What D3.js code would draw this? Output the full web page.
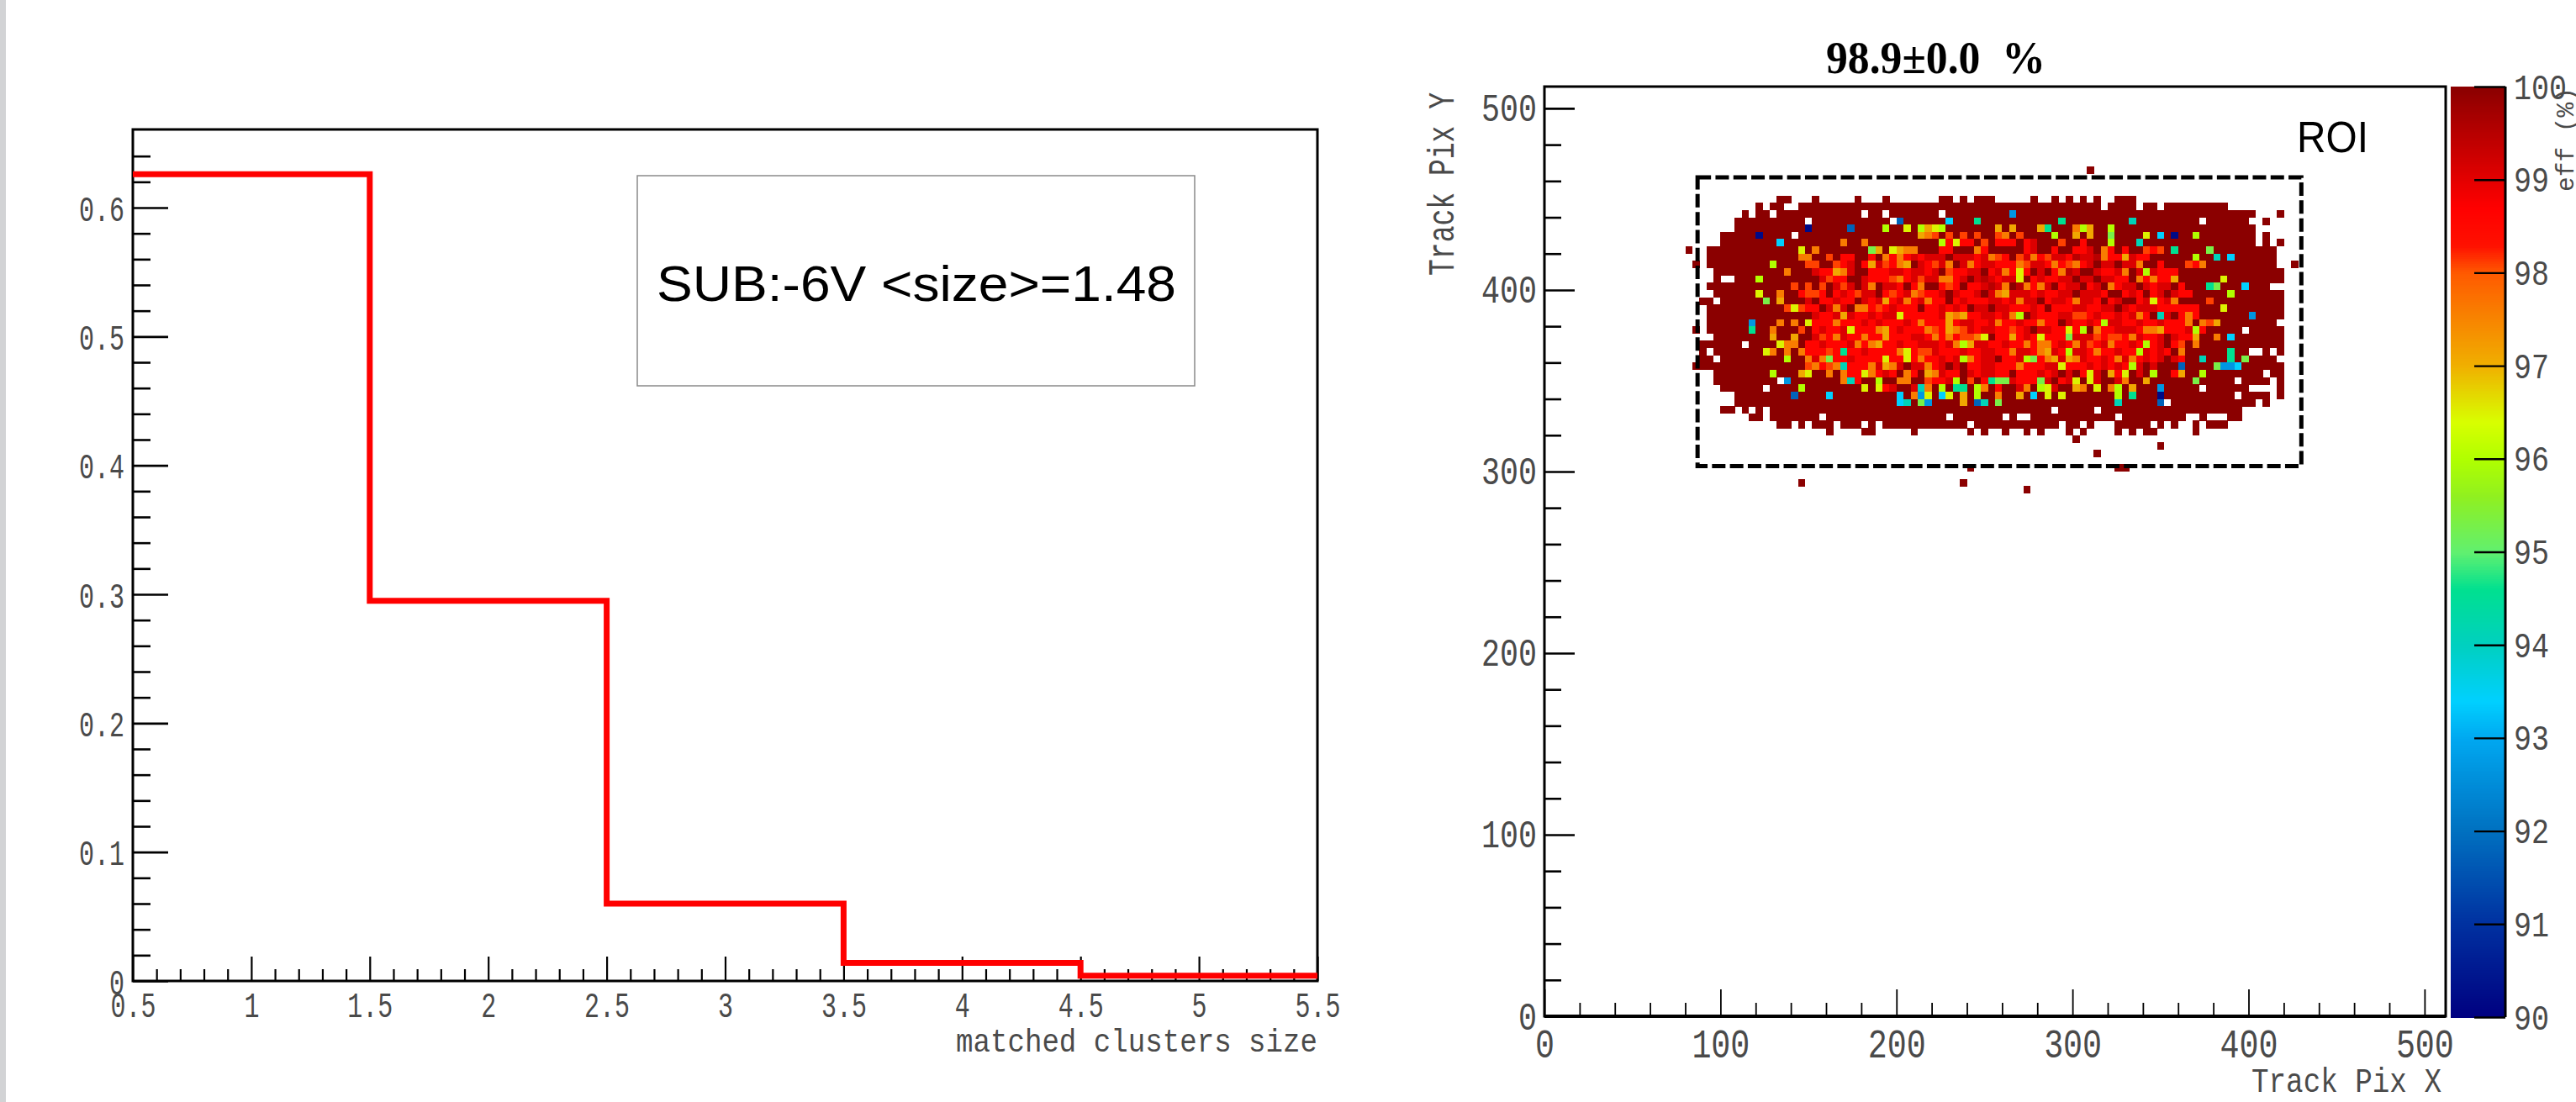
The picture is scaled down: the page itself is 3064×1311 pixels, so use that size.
<!DOCTYPE html>
<html><head><meta charset="utf-8">
<script src="https://cdn.jsdelivr.net/npm/d3@7/dist/d3.min.js"></script>
<style>html,body{margin:0;padding:0;background:#fff;overflow:hidden}svg{display:block}</style>
</head><body><svg id="c" width="3064" height="1311"></svg>
<script>
// ---------- left histogram ----------
const histEdges = [0.5,1.5,2.5,3.5,4.5,5.5];
const histValues = [0.626,0.295,0.060,0.014,0.004];
const histXMajor = [0.5,1,1.5,2,2.5,3,3.5,4,4.5,5,5.5];
const histXLabels = ["0.5","1","1.5","2","2.5","3","3.5","4","4.5","5","5.5"];
const histYMajor = [0,0.1,0.2,0.3,0.4,0.5,0.6];
const histYLabels = ["0","0.1","0.2","0.3","0.4","0.5","0.6"];
const histXTitle = "matched clusters size";
const legendText = "SUB:-6V <size>=1.48";
// ---------- right map ----------
const mapTitle = "98.9\u00b10.0  %";
const mapTicks = [0,100,200,300,400,500];
const barTicks = [90,91,92,93,94,95,96,97,98,99,100];
const roiBox = [87,430,303,462];
const binSize = 4, firstBinX = 84, topBinY = 448;
// efficiency read for each colour seen in a cell
const codeEff = {D:100,E:99.5,F:99.1,R:98.6,Q:98.1,O:97.6,o:97.1,y:96.5,l:96,g:95.3,G:94.6,T:94.1,C:93.4,B:92.7,b:91.8,n:91,N:90.2};
const effStops = [90,91,92,93,93.4,94,94.6,95,95.6,96,96.4,97,98,98.3,98.7,100];
const colorStops = ["#000080","#0030a0","#0070c0","#00a8f0","#00d0ff","#00d0c0","#00e090","#60f070","#90f020","#b0ff00","#d8ff00","#f0b000","#ff5a00","#ff1000","#ff0000","#8b0000"];
// occupied columns of every row, top row first
const rowSpans = [
"12-13,17,23,27,35-36,38,40-42,48,51,53,55,57,60-62",
"9,11-12,15-57,59-62,64-65,67-75",
"7,9-10,12-23,25-26,28-34,36-79,83",
"6-15,17-27,29-71,73-78,81",
"6-79",
"4-13,15-79,81",
"4-79,81,83",
"2-82","2-82","2-82","3-83","3,6-83","2-81","3-83","1-2,4-83","2-83","2-83","2-82",
"2-77,79-83","3-83","1-6,8-83","1,3-78,81,83","1-2,4-82","1-83","3-80,82-83",
"3-11,13-76,78-81,83","4-9,11-71,73-78,83","6-76,78-81,83","6-66,68-79,81",
"4-5,7,9,11-50,52-56,58-77",
"8-9,11-17,19-35,37-43,45,48-59,61-69,72,76-77",
"12-13,15,17-19,21-23,25,27-38,40-51,53-54,56,60-64,66,68,71,73-75",
"19,24-25,31,39,41,44,47,49,53,55,60,62,64-65,71"];
// reds of the dense middle, row 8 downwards: start column then one code per cell
const centerFill = [
"20:DDRDDFDDDDRFRDFDDFFFDFFDRDDFFRDDFDEFFEDRDDFRR",
"20:RRFDRFFFRFEDDRDFFDFRDFFRRDFDFFRFRDDRFDFFDDFDD",
"17:FRRDFFDDDRRFFDFFRFDFRRFFDRFFRFRDFDRFEFDDFRRFFDFDFRR",
"16:DDFRRRDDFDFRFDFFRFFRFRFDFEFRFFRDRFRRFFDFFDFFRRDFRRD",
"15:DFDFDFRFDFRDFFRDRFDDRFRDRRFEFFDEFRRFDRFFDRFDRRFFDFRFFDRD",
"15:RRRRDRFRRFFDRFRFFDRRFDFRRFDFDEFFFRFRRFFDFFFRDDRFRDRFDFRRD",
"14:DDFDRRFRRDFRFRRFDRFFRRDRFRRRFFRFRFFDRFFRRFFRDRFDDRFDRFRDD",
"16:RRDFRFDDFRRRFRRRDRRFRFRDFFDFFRRRFRDRRRFFRRFFDFRFFFRRFDRRD",
"15:DDFRRFRFRRFRFFFRRRRRFFRDRRFFRFRRDFRRRFFDRRFRRFRFFRDRFDRFRD",
"17:RRRFRRRFRFRRRFRRRRRFRFFRRFDRRFRRRRRDFRRFRRFFRRFRRFRRRFDD",
"17:RFRRFRRRRFRRFRRRRRRFRRFRFFRRRRFDFFRRRRFDDRRFFFRFFFRRRFDR",
"17:FRRRFRRFRRRRRRFFRRRFRRFFFDRRFRFRRRRRRFFFRRFFRFFRRFDFRRRD",
"15:DRRFRRRFRRRRRRFRRFFFRFFDFFFRRFRRRRFFRFRRFRRFRRRFRFRFDRRD",
"16:RFRRRFRRFRRRRRRRFFFRRRFRRFFRRRFFRRRFRRFFRFRRFRRRFRFRDRD",
"16:RFRRRRFRRRRRRRRRFRRFRFFFRFFDRRFRRRRRFRRFRRFRFFRRFRFDFRD",
"16:RRRFRFRRRRFRRFDFFFRFDFDRRFFRRRFRRRFFRRRRFRFRFRFFDFDDDRD",
"17:DDFDDRRDDRFRDRRDRRFRRDFRFFRRDRRRFRFDFDRRFDFRDDFDFDDRFDD",
"20:DDDRDDFDDRRDDFRRFFDRDRDFFFRRRDFDRFDDRFDDFDDDD",
"23:DDDFRFDDFDFDFDRFDFDDRDDFDDFDFDDD"];
const centerFirstRow = 8;
// single off-colour cells, by row: start column then codes
const rowCells = [
"","",
"45:B",
"29:b 36:C 40:G 52:G 62:T",
"16:N 22:b 27:l 30:y 32:loyl 43:o 45:o 49:o 50:G 54:O 55:l 56:o 59:l",
"9:N 32:oOQ 36:Q 38:Q 40:Q 43:QO 46:Q 51:l 54:o 56:o 59:g 64:y 66:C 68:N 71:l",
"12:C 21:O 24:O 35:lRyRR 41:Q 43:RRR 47:RF 52:Q 55:R 59:l 63:T",
"15:y 17:O 25:go 28:yoOO 35:RR 40:OR 47:RF 51:R 54:RRF 58:OR 61:R 64:QRQ 68:G 73:g",
"15:OO 19:Q 21:R 25:R 27:OROR 33:FFF 37:FF 40:R 42:OQ 46:QFO 50:QF 53:R 55:FF 58:ORRo 71:l 74:T 76:C",
"11:l 16:QQ 20:QR 24:Ro 27:Q 29:Oo 32:F 34:Q 36:O 39:OR 43:R 45:ROQ 51:O 53:QO 61:F 63:O 66:R 70:QRO",
"13:O 18:RRoO 25:R 29:FR 36:Q 44:O 46:y 52:O 61:O 64:l 66:RRR",
"9:l 19:QRR 25:RR 28:QOR 32:Q 35:OO 46:y 63:O 65:ORRo 75:y",
"14:Q 16:Q 18:Q 21:Q 25:O 32:O 36:Q 44:O 47:O 49:O 59:O 69:R 73:Gg 78:C",
"9:y 12:O 15:RQQR 20:R 23:Q 28:Q 31:OQ 43:Oo 69:R 76:l",
"10:g 12:o 19:R 27:o 30:O 33:O 46:O 54:O 65:y 68:O 73:Q",
"13:QyQ 20:O 23:OO 26:Q 68:RR 75:y",
"21:o 29:y 36:o 37:Oo 45:Ol 54:QQ 63:O 66:T 69:RO 79:B",
"8:B 12:O 14:O 16:y 18:R 20:O 32:O 36:o 43:O 49:O 58:l 70:O 72:OQo",
"8:G 11:O 15:Q 22:y 26:Oo 33:OQ 36:o 37:OQ 45:Q 53:y 55:l 57:O 64:OOo 71:l",
"11:o 14:o 18:QR 20:O 24:O 27:o 34:O 36:O 38:QQ 40:Oy 45:o 49:y 53:g 57:Q 59:QQ 62:O 71:o 74:O 76:C",
"12:yOO 23:O 25:Oo 37:Olo 47:O 49:OO 54:O 56:Q 59:O 64:l 69:Q 71:O",
"10:yO 13:O 15:O 17:R 19:Q 21:G 29:Oy 32:QQ 45:O 49:Oo 53:l 57:O 63:l 69:O 76:G",
"13:l 16:O 18:Og 27:y 30:y 32:O 38:lO 47:lg 50:Oo 53:oO 60:O 62:O 69:R 72:T 76:G 78:g",
"16:QO 19:QO 21:T 25:O 27:oO 33:O 46:O 52:y 62:l 69:b 74:gBBC",
"11:l 15:oy 19:O 21:O 24:yO 30:O 33:oO 56:y 59:o 61:y 65:l 69:o 72:l",
"13:B 21:OT 26:l 29:OO 33:Q 37:l 39:Q 42:G 43:gg 49:g 54:y 56:y 61:O 64:o 71:g",
"15:l 24:y 26:y 32:TO 35:l 37:GG 40:lO 47:O 49:ly 54:oO 57:y 59:Ol 62:o 66:B",
"14:b 19:C 29:C 31:OBy 35:Cy 38:o 40:l 43:O 46:o 48:C 50:y 52:y 60:l 62:G 66:N",
"29:CT 32:gB 38:o 40:bT 43:g 60:T 66:b"];
// isolated cells outside the body: [column,row]
const strayCells = [[-1,7],[0,9],[85,9],[0,18],[0,23],[56,-4],[39,37],[60,37],[61,37],[15,39],[38,39],[47,40],[54,33],[66,34],[57,35]];

// ---------- drawing ----------
const svg = d3.select("#c");
const ink="#000", labelGrey="#4a4a4a", mono="'Liberation Mono',monospace";
svg.append("rect").attr("x",0).attr("y",0).attr("width",7).attr("height",1311).attr("fill","#d2d3d5");

function styleLabels(g,size,charW,dx,dy){
  g.selectAll("text").attr("font-family",mono).attr("font-size",size).attr("fill",labelGrey)
    .attr("lengthAdjust","spacingAndGlyphs")
    .attr("textLength",function(){return this.textContent.length*charW;})
    .attr("dx",dx).attr("dy",dy);
}
function ticks(g,axis,w){g.call(axis);g.select(".domain").remove();g.selectAll("line").attr("stroke",ink).attr("stroke-width",w);}

// left panel
const hx=d3.scaleLinear().domain([0.5,5.5]).range([158,1567]);
const hy=d3.scaleLinear().domain([0,0.6]).range([1167,247]);
const hTop=154;
const gl=svg.append("g");
const hXMinor=d3.range(5,56).map(d=>d/10).filter(d=>d%0.5>1e-6&&0.5-d%0.5>1e-6);
const hYMinor=d3.range(0,33).map(d=>d*0.02).filter(d=>Math.abs(d*10-Math.round(d*10))>1e-6);
ticks(gl.append("g").attr("transform","translate(0,1167)"),d3.axisBottom(hx).tickValues(hXMinor).tickSize(-14).tickFormat(""),2.2);
ticks(gl.append("g").attr("transform","translate(158,0)"),d3.axisLeft(hy).tickValues(hYMinor).tickSize(-21).tickFormat(""),2.6);
const hxa=gl.append("g").attr("transform","translate(0,1167)");
ticks(hxa,d3.axisBottom(hx).tickValues(histXMajor).tickSize(-29).tickPadding(0).tickFormat((d,i)=>histXLabels[i]),2.2);
hxa.selectAll("text").attr("y",43);
styleLabels(hxa,42,18,0,0);
const hya=gl.append("g").attr("transform","translate(158,0)");
ticks(hya,d3.axisLeft(hy).tickValues(histYMajor).tickSize(-42).tickPadding(10).tickFormat((d,i)=>histYLabels[i]),2.6);
styleLabels(hya,42,18,0,15);
gl.append("rect").attr("x",158).attr("y",hTop).attr("width",1409).attr("height",1167-hTop).attr("fill","none").attr("stroke",ink).attr("stroke-width",3);
const hPts=histValues.map((v,i)=>[histEdges[i],v]).concat([[histEdges[5],histValues[4]]]);
gl.append("path").attr("d",d3.line().x(d=>hx(d[0])).y(d=>hy(d[1])).curve(d3.curveStepAfter)(hPts))
  .attr("fill","none").attr("stroke","#ff0000").attr("stroke-width",7).attr("stroke-linejoin","miter");
gl.append("text").text(histXTitle).attr("x",1567).attr("y",1251).attr("text-anchor","end")
  .attr("font-family",mono).attr("font-size",38).attr("fill",labelGrey)
  .attr("textLength",430).attr("lengthAdjust","spacingAndGlyphs");
gl.append("rect").attr("x",758).attr("y",209).attr("width",663).attr("height",250).attr("fill","none").attr("stroke","#8a8a8a").attr("stroke-width",1.5);
gl.append("text").text(legendText).attr("x",781).attr("y",358).attr("font-family","'Liberation Sans',Arial,sans-serif")
  .attr("font-size",60).attr("fill",ink).attr("textLength",618).attr("lengthAdjust","spacingAndGlyphs");

// right panel
const mx=d3.scaleLinear().domain([0,512]).range([1837,2909]);
const my=d3.scaleLinear().domain([0,512]).range([1209,103]);
const color=d3.scaleLinear().domain(effStops).range(colorStops);
const cells=[];
const grid=rowSpans.map(()=>new Map());
rowSpans.forEach((s,r)=>s.split(",").forEach(p=>{const [a,b]=p.split("-").map(Number);for(let c=a;c<=(b===undefined?a:b);c++)grid[r].set(c,"D");}));
function applyRun(r,run){const [c,codes]=run.split(":");[...codes].forEach((k,i)=>{const col=+c+i;if(grid[r].has(col))grid[r].set(col,k);});}
centerFill.forEach((run,i)=>applyRun(centerFirstRow+i,run));
rowCells.forEach((s,r)=>{if(s)s.split(" ").forEach(run=>applyRun(r,run));});
grid.forEach((m,r)=>m.forEach((k,c)=>cells.push({c,r,k})));
strayCells.forEach(([c,r])=>cells.push({c,r,k:"D"}));
const gr=svg.append("g");
gr.append("g").attr("shape-rendering","crispEdges").selectAll("rect").data(cells).join("rect")
  .attr("x",d=>mx(firstBinX+d.c*binSize))
  .attr("y",d=>my(topBinY-d.r*binSize+binSize))
  .attr("width",mx(binSize)-mx(0)+0.4)
  .attr("height",my(0)-my(binSize)+0.4)
  .attr("fill",d=>color(codeEff[d.k]));
gr.append("rect").attr("x",mx(roiBox[0])).attr("y",my(roiBox[3])).attr("width",mx(roiBox[1])-mx(roiBox[0])).attr("height",my(roiBox[2])-my(roiBox[3]))
  .attr("fill","none").attr("stroke",ink).attr("stroke-width",5).attr("stroke-dasharray","16,5.3");
const mMinor=d3.range(0,512,20).filter(d=>d%100);
ticks(gr.append("g").attr("transform","translate(0,1209)"),d3.axisBottom(mx).tickValues(mMinor).tickSize(-16).tickFormat(""),1.8);
ticks(gr.append("g").attr("transform","translate(1837,0)"),d3.axisLeft(my).tickValues(mMinor).tickSize(-20).tickFormat(""),2.6);
const mxa=gr.append("g").attr("transform","translate(0,1209)");
ticks(mxa,d3.axisBottom(mx).tickValues(mapTicks).tickSize(-32).tickFormat(d=>d),1.8);
mxa.selectAll("text").attr("y",49);
styleLabels(mxa,48,23,0,0);
const mya=gr.append("g").attr("transform","translate(1837,0)");
ticks(mya,d3.axisLeft(my).tickValues(mapTicks).tickSize(-36).tickPadding(9).tickFormat(d=>d),2.6);
styleLabels(mya,46,22,0,15);
gr.append("rect").attr("x",1837).attr("y",103).attr("width",1072).attr("height",1106).attr("fill","none").attr("stroke",ink).attr("stroke-width",3);
gr.append("line").attr("x1",1837).attr("x2",2909).attr("y1",1209).attr("y2",1209).attr("stroke",ink).attr("stroke-width",4);
gr.append("text").text(mapTitle).attr("x",2172).attr("y",87).attr("xml:space","preserve").style("white-space","pre")
  .attr("font-family","'Liberation Serif',serif").attr("font-weight","bold").attr("font-size",54).attr("fill",ink)
  .attr("textLength",261).attr("lengthAdjust","spacingAndGlyphs");
gr.append("text").text("ROI").attr("x",2732).attr("y",181).attr("font-family","'Liberation Sans',Arial,sans-serif").attr("font-size",52).attr("fill",ink)
  .attr("textLength",85).attr("lengthAdjust","spacingAndGlyphs");
gr.append("text").text("Track Pix X").attr("x",2904).attr("y",1299).attr("text-anchor","end").attr("font-family",mono).attr("font-size",40).attr("fill",labelGrey)
  .attr("textLength",226).attr("lengthAdjust","spacingAndGlyphs");
gr.append("text").text("Track Pix Y").attr("transform","translate(1729,110) rotate(-90)").attr("text-anchor","end").attr("font-family",mono).attr("font-size",44).attr("fill",labelGrey)
  .attr("textLength",218).attr("lengthAdjust","spacingAndGlyphs");

// colour bar
const by=d3.scaleLinear().domain([90,100]).range([1210,103]);
const bar=svg.append("g");
const slices=d3.range(90,100,0.02);
bar.append("g").attr("shape-rendering","crispEdges").selectAll("rect").data(slices).join("rect")
  .attr("x",2915).attr("width",65).attr("y",d=>by(d+0.02)).attr("height",by(90)-by(90.03)).attr("fill",d=>color(d+0.01));
const bax=bar.append("g").attr("transform","translate(2980,0)");
ticks(bax,d3.axisRight(by).tickValues(barTicks).tickSize(0).tickPadding(10).tickFormat(d=>d),2.4);
bax.selectAll("line").attr("x2",-37);
styleLabels(bax,42,21,0,14);
bar.append("line").attr("x1",2980).attr("x2",2980).attr("y1",103).attr("y2",1210).attr("stroke",ink).attr("stroke-width",3);
bar.append("text").text("eff (%)").attr("transform","translate(3061,104) rotate(-90)").attr("text-anchor","end").attr("font-family",mono).attr("font-size",30).attr("fill",labelGrey)
  .attr("textLength",124).attr("lengthAdjust","spacingAndGlyphs");
</script></body></html>
